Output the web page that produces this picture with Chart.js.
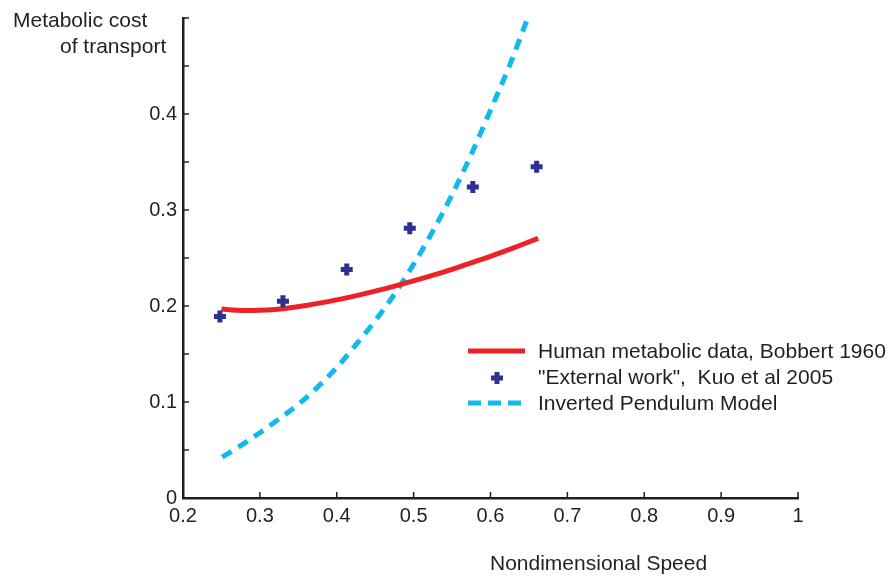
<!DOCTYPE html>
<html>
<head>
<meta charset="utf-8">
<script src="https://cdn.jsdelivr.net/npm/chart.js@4/dist/chart.umd.min.js"></script>
<style>
  html, body { margin: 0; padding: 0; background: #ffffff; }
  #wrap { position: relative; width: 894px; height: 577px; }
</style>
</head>
<body>
<div id="wrap"><canvas id="c" width="894" height="577"></canvas></div>
<script>
// ---- Data ----
const bobbertSpeed = [0.250, 0.270, 0.290, 0.310, 0.330, 0.360, 0.390, 0.420, 0.450, 0.480, 0.510, 0.540, 0.570, 0.600, 0.630, 0.662];
const bobbertCost  = [0.1968, 0.1956, 0.1953, 0.1958, 0.1972, 0.2005, 0.2048, 0.2098, 0.2155, 0.2218, 0.2285, 0.2355, 0.2435, 0.2518, 0.2605, 0.2705];

const kuoSpeed = [0.248, 0.330, 0.413, 0.495, 0.577, 0.660];
const kuoCost  = [0.189, 0.205, 0.238, 0.281, 0.324, 0.345];

const pendulumSpeed = [0.251, 0.275, 0.300, 0.325, 0.350, 0.375, 0.400, 0.425, 0.450, 0.475, 0.500, 0.525, 0.550, 0.575, 0.600, 0.625, 0.647];
const pendulumCost  = [0.0425, 0.0545, 0.068, 0.0823, 0.0975, 0.1155, 0.136, 0.1597, 0.1847, 0.2122, 0.2435, 0.278, 0.316, 0.358, 0.404, 0.451, 0.497];

const xTickValues = [0.2, 0.3, 0.4, 0.5, 0.6, 0.7, 0.8, 0.9, 1];
const xTickLabels = ['0.2', '0.3', '0.4', '0.5', '0.6', '0.7', '0.8', '0.9', '1'];
const yTickValues = [0, 0.1, 0.2, 0.3, 0.4];
const yTickLabels = ['0', '0.1', '0.2', '0.3', '0.4'];

const seriesNames = ['Human metabolic data, Bobbert 1960', '"External work",  Kuo et al 2005', 'Inverted Pendulum Model'];
const yTitleLines = ['Metabolic cost', 'of transport'];
const xTitle = 'Nondimensional Speed';

// ---- Styles ----
const INK = '#231f20';
const RED = '#ec2227';
const BLUE = '#2e3192';
const CYAN = '#11b9ee';
const FONT = 'Liberation Sans, Arial, Helvetica, sans-serif';

function pairs(xs, ys) { return xs.map((x, i) => ({ x: x, y: ys[i] })); }
function labelFor(v, values, labels) {
  for (let i = 0; i < values.length; i++) if (Math.abs(values[i] - v) < 1e-6) return labels[i];
  return '';
}

// inward ticks + legend + axis titles
const decor = {
  id: 'decor',
  afterDraw(chart) {
    const ctx = chart.ctx;
    const xs = chart.scales.x, ys = chart.scales.y;
    const a = chart.chartArea;
    ctx.save();
    // inward ticks
    ctx.strokeStyle = INK;
    ctx.lineWidth = 1.5;
    xs.ticks.forEach(t => {
      const px = xs.getPixelForValue(t.value);
      ctx.beginPath(); ctx.moveTo(px, a.bottom); ctx.lineTo(px, a.bottom - 6); ctx.stroke();
    });
    ys.ticks.forEach(t => {
      const py = ys.getPixelForValue(t.value);
      ctx.beginPath(); ctx.moveTo(a.left, py); ctx.lineTo(a.left + 6, py); ctx.stroke();
    });

    // legend
    ctx.font = '21px ' + FONT;
    ctx.fillStyle = INK;
    ctx.textBaseline = 'alphabetic';
    ctx.textAlign = 'left';
    const lx0 = 468, lx1 = 525, tx = 538;
    const rows = [351, 378, 403];
    ctx.strokeStyle = RED; ctx.lineWidth = 5; ctx.setLineDash([]);
    ctx.beginPath(); ctx.moveTo(lx0, rows[0]); ctx.lineTo(lx1, rows[0]); ctx.stroke();
    ctx.strokeStyle = BLUE; ctx.lineWidth = 5;
    const cx = 497, cy = rows[1], r = 6;
    ctx.beginPath(); ctx.moveTo(cx - r, cy); ctx.lineTo(cx + r, cy); ctx.moveTo(cx, cy - r); ctx.lineTo(cx, cy + r); ctx.stroke();
    ctx.strokeStyle = CYAN; ctx.lineWidth = 5; ctx.setLineDash([13, 7]);
    ctx.beginPath(); ctx.moveTo(lx0, rows[2]); ctx.lineTo(lx1, rows[2]); ctx.stroke();
    ctx.setLineDash([]);
    ctx.fillText(seriesNames[0], tx, rows[0] + 7);
    ctx.fillText(seriesNames[1], tx, rows[1] + 6);
    ctx.fillText(seriesNames[2], tx, rows[2] + 7);

    // axis titles
    ctx.fillText(yTitleLines[0], 13, 27);
    ctx.fillText(yTitleLines[1], 60, 53);
    ctx.fillText(xTitle, 490, 570);
    ctx.restore();
  }
};

new Chart(document.getElementById('c'), {
  type: 'scatter',
  data: {
    datasets: [
      {
        label: seriesNames[2],
        type: 'line',
        data: pairs(pendulumSpeed, pendulumCost),
        borderColor: CYAN,
        borderWidth: 5,
        borderDash: [11, 8],
        borderCapStyle: 'butt',
        pointRadius: 0,
        fill: false,
        cubicInterpolationMode: 'monotone',
        order: 3
      },
      {
        label: seriesNames[0],
        type: 'line',
        data: pairs(bobbertSpeed, bobbertCost),
        borderColor: RED,
        borderWidth: 5,
        pointRadius: 0,
        fill: false,
        cubicInterpolationMode: 'monotone',
        order: 2
      },
      {
        label: seriesNames[1],
        data: pairs(kuoSpeed, kuoCost),
        pointStyle: 'cross',
        pointRadius: 6,
        pointBorderWidth: 5,
        pointBorderColor: BLUE,
        pointBackgroundColor: BLUE,
        showLine: false,
        order: 1
      }
    ]
  },
  options: {
    responsive: false,
    animation: false,
    devicePixelRatio: 1,
    layout: { padding: { top: 15, right: 96, left: 0, bottom: 0 } },
    plugins: { legend: { display: false }, tooltip: { enabled: false }, title: { display: false } },
    scales: {
      x: {
        type: 'linear',
        min: 0.2, max: 1,
        afterFit(scale) { scale.height = 79; },
        border: { display: true, color: INK, width: 2.5 },
        grid: { display: false, drawTicks: false, tickLength: 0 },
        ticks: {
          stepSize: 0.1,
          padding: 6,
          color: INK,
          font: { family: FONT, size: 20 },
          maxRotation: 0,
          autoSkip: false,
          callback: (v) => labelFor(v, xTickValues, xTickLabels)
        }
      },
      y: {
        type: 'linear',
        min: 0, max: 0.5,
        afterFit(scale) { scale.width = 183; },
        border: { display: true, color: INK, width: 2.5 },
        grid: { display: false, drawTicks: false, tickLength: 0 },
        ticks: {
          stepSize: 0.05,
          padding: 6,
          color: INK,
          font: { family: FONT, size: 20 },
          autoSkip: false,
          callback: (v) => labelFor(v, yTickValues, yTickLabels)
        }
      }
    }
  },
  plugins: [decor]
});
</script>
</body>
</html>
